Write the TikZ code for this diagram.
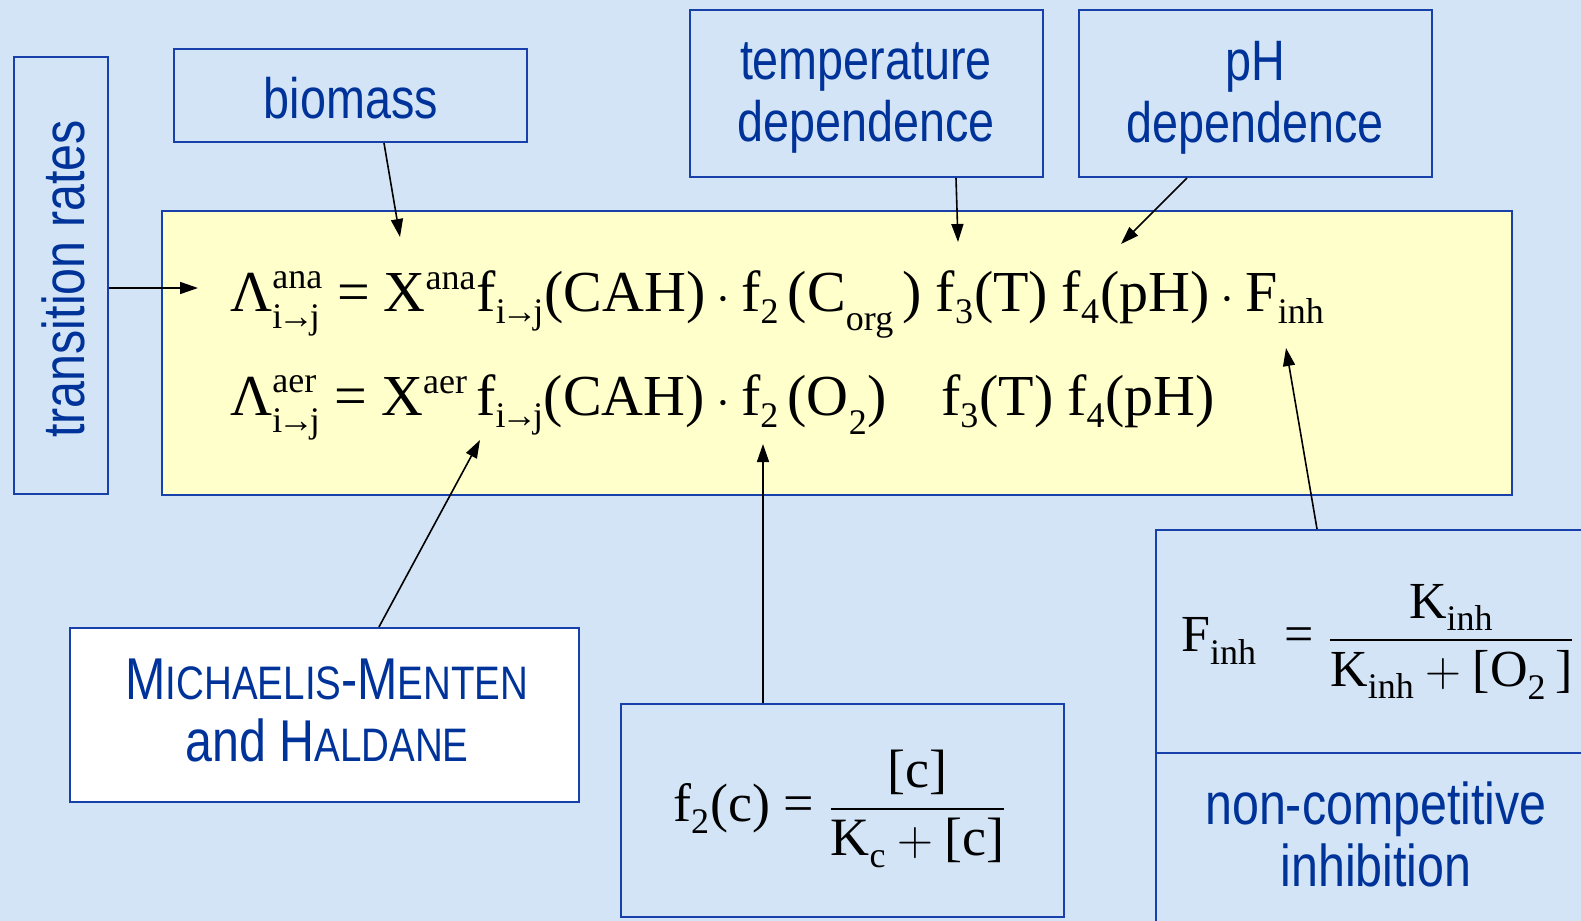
\documentclass[tikz,border=0pt]{standalone}
\usepackage{amsmath}
\usepackage{fontspec}
\setmainfont{Liberation Serif}
\newfontfamily\lab{Liberation Sans}[FakeStretch=0.82]
\usetikzlibrary{arrows.meta,calc}
\definecolor{bg}{RGB}{210,228,246}
\definecolor{edge}{RGB}{24,64,170}
\definecolor{txt}{RGB}{0,51,153}
\definecolor{yel}{RGB}{255,255,204}
\newcommand\T[1]{\text{#1}}
\newcommand\Sb[1]{\text{\fontsize{18}{20}\selectfont\raisebox{-2.5pt}{#1}}}
\newcommand\Sp[1]{\text{\fontsize{18}{20}\selectfont #1}}
\newcommand\itoj{i\kern-0.12em→\kern-0.12em j}
\newcommand\sm[1]{{\fontsize{23.5}{31}\selectfont #1}}
\tikzset{
 box/.style={draw=edge, line width=1.1pt, inner sep=0pt},
 lbl/.style={inner sep=0pt, align=center, font=\lab\fontsize{28.5}{31}\selectfont, text=txt},
 arr/.style={draw=black, line width=0.8pt, -{Triangle[length=9pt,width=6pt]}},
 eq/.style={font=\fontsize{29}{32}\selectfont, inner sep=0pt, text=black},
}
\begin{document}
\begin{tikzpicture}[x=0.5pt,y=-0.5pt]
\useasboundingbox (0,0) rectangle (1581,921);
\clip (0,0) rectangle (1581,921);
\fill[bg] (0,0) rectangle (1581,921);
% boxes
\node[box, minimum width=47pt, minimum height=218.5pt] (trans) at (61,275.5) {};
\node[box, minimum width=176.5pt, minimum height=46.5pt] (bio) at (350.5,95.5) {};
\node[box, minimum width=176.5pt, minimum height=83.5pt] (temp) at (866.5,93.5) {};
\node[box, minimum width=176.5pt, minimum height=83.5pt] (ph) at (1255.5,93.5) {};
\node[box, fill=yel, minimum width=675pt, minimum height=142pt] (yel) at (837,353) {};
\node[box, fill=white, minimum width=254.5pt, minimum height=87pt] (mm) at (324.5,715) {};
\node[box, minimum width=221.5pt, minimum height=106.5pt] (f2) at (842.5,810.5) {};
\node[box, minimum width=222pt, minimum height=111.5pt] (finh) at (1378,641.5) {};
\node[box, minimum width=222pt, minimum height=93.5pt] (nc) at (1378,846.5) {};
% labels
\node[lbl, rotate=90, font=\lab\fontsize{29.5}{31}\selectfont] (transT) at (63,279) {transition rates};
\node[lbl] (bioT) at (351,98) {biomass};
\node[lbl] (tempT) at (866,98) {temperature\\dependence};
\node[lbl] (phT) at (1255,98) {pH\\dependence};
\node[lbl, font=\lab\fontsize{29.5}{31}\selectfont] (mmT) at (327,710) {M\sm{ICHAELIS}-M\sm{ENTEN}\\and H\sm{ALDANE}};
\node[lbl, font=\lab\fontsize{29.5}{31}\selectfont] (ncT) at (1376,834) {non-competitive\\inhibition};
% equations
\node[eq, anchor=base west] (eqa) at (230,311) {$\T{Λ}^{\Sp{ana}}_{\Sb{\itoj}} \mathrel{\T{=}} \T{X}^{\Sp{ana}}\T{f}_{\Sb{\itoj}}\T{(CAH)}\cdot\T{f}_{\Sb{2}}\,\T{(C}_{\Sb{org}}\,\T{)}\;\T{f}_{\Sb{3}}\T{(T)}\;\T{f}_{\Sb{4}}\T{(pH)}\cdot\T{F}_{\Sb{inh}}$};
\node[eq, anchor=base west] (eqb) at (230,415) {$\T{Λ}^{\Sp{aer}}_{\Sb{\itoj}} \mathrel{\T{=}} \T{X}^{\Sp{aer}}\,\T{f}_{\Sb{\itoj}}\T{(CAH)}\cdot\T{f}_{\Sb{2}}\,\T{(O}_{\Sb{2}}\T{)}\hspace{27pt}\T{f}_{\Sb{3}}\T{(T)}\;\T{f}_{\Sb{4}}\T{(pH)}$};
\node[eq, font=\fontsize{27}{30}\selectfont] (eqf2) at (840,809) {$\T{f}_{\Sb{2}}\T{(c)} \mathrel{\T{=}} \dfrac{\T{[c]}}{\T{K}_{\Sb{c}}+\T{[c]}}$};
\node[eq, font=\fontsize{26}{30}\selectfont] (eqfi) at (1378,642) {$\T{F}_{\Sb{inh}}\;\mathrel{\T{=}} \dfrac{\T{K}_{\Sb{inh}}}{\T{K}_{\Sb{inh}}+\T{[O}_{\Sb{2}}\,\T{]}}$};
% connectors
\coordinate (tA) at (198,288);
\coordinate (bA) at (400,237);
\coordinate (tpA) at (958,242);
\coordinate (phA) at (1121,244);
\coordinate (fiA) at (1286,348);
\coordinate (f2A) at (763,444);
\coordinate (mmA) at (480,440);
\draw[arr] (trans.east |- tA) -- (tA);
\draw[arr] ($(bio.south)+(33.5,0)$) -- (bA);
\draw[arr] ($(temp.south)+(89.5,0)$) -- (tpA);
\draw[arr] ($(ph.south)+(-68.5,0)$) -- (phA);
\draw[arr] ($(finh.north)+(-61,0)$) -- (fiA);
\draw[arr] ($(f2.north)+(-79.5,0)$) -- (f2A);
\draw[arr] ($(mm.north)+(54.5,0)$) -- (mmA);
\end{tikzpicture}
\end{document}
